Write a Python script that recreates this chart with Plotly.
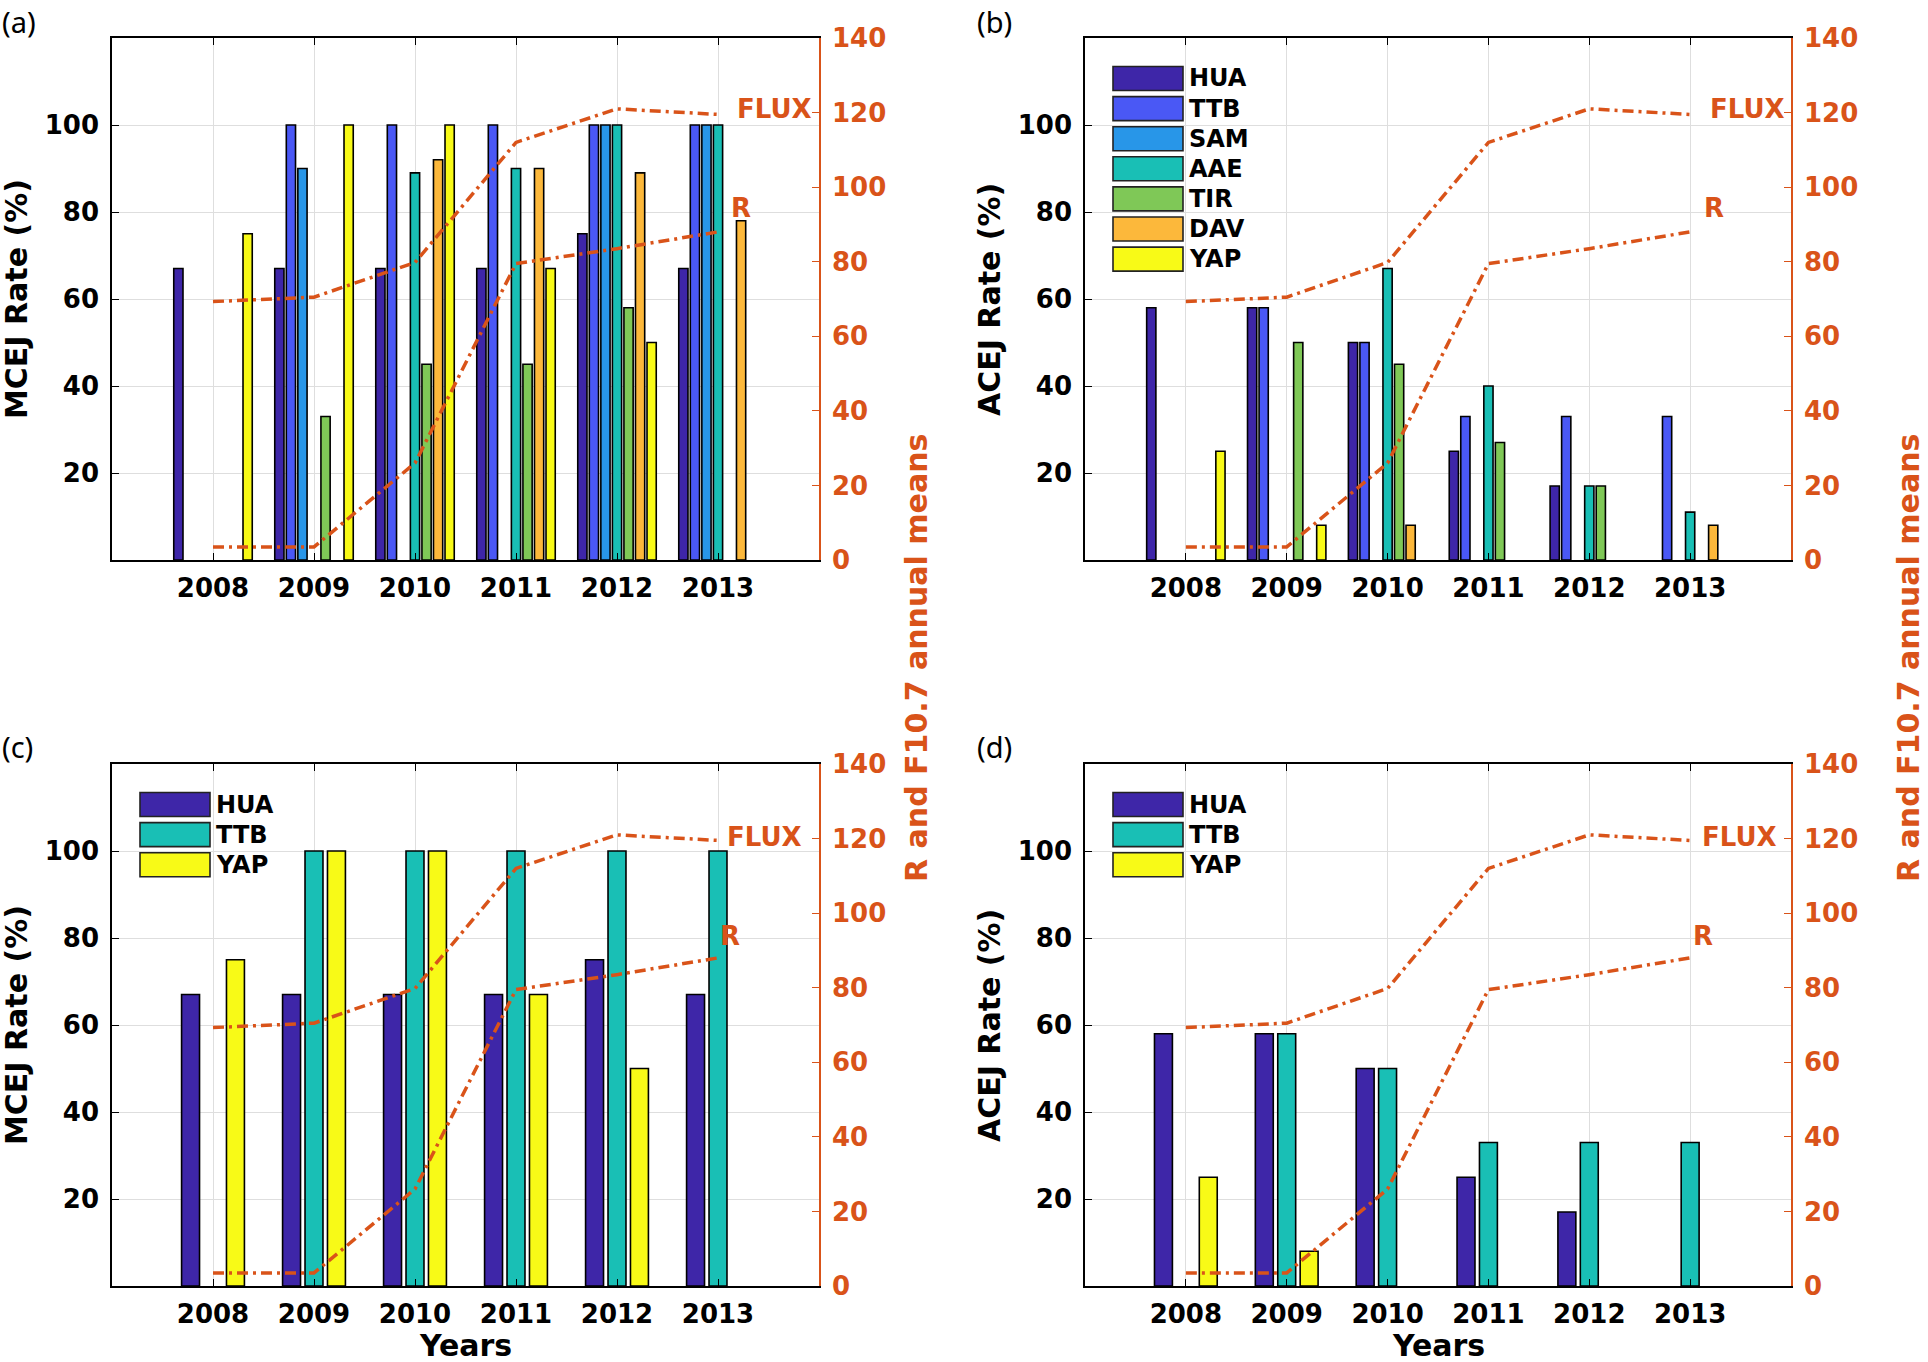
import plotly.graph_objects as go

# ---------------- data ----------------
years = [2008, 2009, 2010, 2011, 2012, 2013]
year_labels = ["2008", "2009", "2010", "2011", "2012", "2013"]

stations_all = ["HUA", "TTB", "SAM", "AAE", "TIR", "DAV", "YAP"]
stations_sub = ["HUA", "TTB", "YAP"]

# (a) MCEJ rate, all stations (%)
a_hua = [67, 67, 67, 67, 75, 67]
a_ttb = [None, 100, 100, 100, 100, 100]
a_sam = [None, 90, None, None, 100, 100]
a_aae = [None, None, 89, 90, 100, 100]
a_tir = [None, 33, 45, 45, 58, None]
a_dav = [None, None, 92, 90, 89, 78]
a_yap = [75, 100, 100, 67, 50, None]

# (b) ACEJ rate, all stations (%)
b_hua = [58, 58, 50, 25, 17, None]
b_ttb = [None, 58, 50, 33, 33, 33]
b_sam = [None, None, None, None, None, None]
b_aae = [None, None, 67, 40, 17, 11]
b_tir = [None, 50, 45, 27, 17, None]
b_dav = [None, None, 8, None, None, 8]
b_yap = [25, 8, None, None, None, None]

# (c) MCEJ rate, three stations (%)
c_hua = [67, 67, 67, 67, 75, 67]
c_ttb = [None, 100, 100, 100, 100, 100]
c_yap = [75, 100, 100, 67, 50, None]

# (d) ACEJ rate, three stations (%)
d_hua = [58, 58, 50, 25, 17, None]
d_ttb = [None, 58, 50, 33, 33, 33]
d_yap = [25, 8, None, None, None, None]

# solar activity annual means (right axis)
flux_f107 = [69.3, 70.5, 79.8, 112, 121, 119.5]
sunspot_r = [3.5, 3.5, 26, 79.5, 83.5, 88]

left_ticks = [20, 40, 60, 80, 100]
right_ticks = [0, 20, 40, 60, 80, 100, 120, 140]

# ---------------- style ----------------
W, H = 1928, 1362
ORANGE = "#d95319"
colors_all = ["#3e26a8", "#4a58f5", "#2896e8", "#19bfb5", "#7fc857", "#fcb83b", "#f8fa17"]
colors_sub = ["#3e26a8", "#19bfb5", "#f8fa17"]
FONT = "DejaVu Sans"
TICK_FS = 26
TITLE_FS = 30
GRID = "#dedede"


def px(xp):
    return xp / W


def py(yp):
    return 1 - yp / H


panels = [
    dict(lab="(a)", n=1, series=[a_hua, a_ttb, a_sam, a_aae, a_tir, a_dav, a_yap],
         names=stations_all, colors=colors_all, box=(112, 819, 38, 560),
         ytitle="MCEJ Rate (%)", legend=False, xtitle=False,
         flux_pos=(2013.56, 121), r_pos=(2013.23, 94.5), lab_pos=(0, 0)),
    dict(lab="(b)", n=2, series=[b_hua, b_ttb, b_sam, b_aae, b_tir, b_dav, b_yap],
         names=stations_all, colors=colors_all, box=(1085, 1791, 38, 560),
         ytitle="ACEJ Rate (%)", legend=True, xtitle=False,
         flux_pos=(2013.57, 121), r_pos=(2013.24, 94.5), lab_pos=(975, 0)),
    dict(lab="(c)", n=3, series=[c_hua, c_ttb, c_yap],
         names=stations_sub, colors=colors_sub, box=(112, 819, 764, 1286),
         ytitle="MCEJ Rate (%)", legend=True, xtitle=True,
         flux_pos=(2013.46, 120.3), r_pos=(2013.12, 93.8), lab_pos=(0, 725)),
    dict(lab="(d)", n=4, series=[d_hua, d_ttb, d_yap],
         names=stations_sub, colors=colors_sub, box=(1085, 1791, 764, 1286),
         ytitle="ACEJ Rate (%)", legend=True, xtitle=True,
         flux_pos=(2013.49, 120.3), r_pos=(2013.13, 93.8), lab_pos=(975, 725)),
]

fig = go.Figure()
layout = dict(
    template="none",
    width=W, height=H, margin=dict(l=0, r=0, t=0, b=0, pad=0, autoexpand=False),
    paper_bgcolor="white", plot_bgcolor="white",
    barmode="overlay", showlegend=False,
    font=dict(family=FONT, size=TICK_FS, color="black"),
)
annotations = []
shapes = []

for p in panels:
    k = p["n"]
    xa = "x" if k == 1 else f"x{k}"
    ya_i = 2 * k - 1
    ya = "y" if ya_i == 1 else f"y{ya_i}"
    ya2 = f"y{2 * k}"
    L, R, T, B = p["box"]
    xdom = [px(L), px(R)]
    ydom = [py(B), py(T)]

    nser = len(p["series"])
    groupwidth = min(0.8, nser / (nser + 1.5))
    spacing = groupwidth / nser
    bw = spacing * 0.8
    for i, (vals, name, col) in enumerate(zip(p["series"], p["names"], p["colors"])):
        offset = (i - (nser - 1) / 2) * spacing - bw / 2
        fig.add_trace(go.Bar(
            x=years, y=vals, name=name, xaxis=xa, yaxis=ya,
            width=bw, offset=offset,
            marker=dict(color=col, line=dict(color="black", width=1.6)),
            showlegend=False,
        ))
    for vals, name in [(flux_f107, "FLUX"), (sunspot_r, "R")]:
        fig.add_trace(go.Scatter(
            x=years, y=vals, name=name, xaxis=xa, yaxis=ya2, mode="lines",
            line=dict(color=ORANGE, width=3.5, dash="11px,5px,3px,5px"),
            showlegend=False,
        ))

    xkey = "xaxis" if k == 1 else f"xaxis{k}"
    ykey = "yaxis" if ya_i == 1 else f"yaxis{ya_i}"
    y2key = f"yaxis{2 * k}"
    layout[xkey] = dict(
        domain=xdom, anchor=ya, range=[2007, 2014], automargin=False,
        tickvals=years, ticktext=year_labels,
        ticks="inside", ticklen=7, tickcolor="black", tickwidth=1.2,
        showline=True, linecolor="black", linewidth=1.6, mirror="ticks",
        showgrid=True, gridcolor=GRID, gridwidth=1, zeroline=False,
        tickfont=dict(family=FONT, size=TICK_FS, color="black", weight="bold"),
        ticklabelstandoff=4,
    )
    layout[ykey] = dict(
        domain=ydom, anchor=xa, range=[0, 120], tickvals=left_ticks, automargin=False,
        ticks="inside", ticklen=7, tickcolor="black", tickwidth=1.2,
        showline=True, linecolor="black", linewidth=1.6,
        showgrid=True, gridcolor=GRID, gridwidth=1, zeroline=False,
        tickfont=dict(family=FONT, size=TICK_FS, color="black", weight="bold"),
        ticklabelstandoff=6,
    )
    layout[y2key] = dict(
        overlaying=ya, anchor=xa, side="right", range=[0, 140], tickvals=right_ticks,
        automargin=False,
        ticks="inside", ticklen=7, tickcolor=ORANGE, tickwidth=1.2,
        showline=True, linecolor=ORANGE, linewidth=1.6,
        showgrid=False, zeroline=False,
        tickfont=dict(family=FONT, size=TICK_FS, color=ORANGE, weight="bold"),
        ticklabelstandoff=6,
    )

    # FLUX / R labels
    annotations.append(dict(text="FLUX", x=p["flux_pos"][0], y=p["flux_pos"][1], xref=xa, yref=ya2,
                            showarrow=False, xanchor="center", yanchor="middle",
                            font=dict(family=FONT, size=TICK_FS, color=ORANGE, weight="bold")))
    annotations.append(dict(text="R", x=p["r_pos"][0], y=p["r_pos"][1], xref=xa, yref=ya2,
                            showarrow=False, xanchor="center", yanchor="middle",
                            font=dict(family=FONT, size=TICK_FS, color=ORANGE, weight="bold")))

    # left y title
    annotations.append(dict(text=p["ytitle"], x=px(L - 96), y=py((T + B) / 2), xref="paper", yref="paper",
                            showarrow=False, textangle=-90, xanchor="center", yanchor="middle",
                            font=dict(family=FONT, size=TITLE_FS, color="black", weight="bold")))
    # panel letter
    annotations.append(dict(text=p["lab"], x=px(p["lab_pos"][0]), y=py(p["lab_pos"][1]), xref="paper", yref="paper",
                            showarrow=False, xanchor="left", yanchor="top",
                            font=dict(family="Noto Sans", size=29, color="black")))
    if p["xtitle"]:
        annotations.append(dict(text="Years", x=px((L + R) / 2), y=py(1364), xref="paper", yref="paper",
                                showarrow=False, xanchor="center", yanchor="bottom", borderpad=0,
                                font=dict(family=FONT, size=TITLE_FS, color="black", weight="bold")))
    if p["legend"]:
        for j, (name, col) in enumerate(zip(p["names"], p["colors"])):
            cy = T + 40.5 + 30.1 * j
            shapes.append(dict(type="rect", xref="paper", yref="paper",
                               x0=px(L + 28), x1=px(L + 98), y0=py(cy + 12), y1=py(cy - 12),
                               fillcolor=col, line=dict(color="#222222", width=1.6)))
            annotations.append(dict(text=name, x=px(L + 102), y=py(cy), xref="paper", yref="paper",
                                    showarrow=False, xanchor="left", yanchor="middle",
                                    font=dict(family=FONT, size=24, color="black", weight="bold")))

# right-axis titles (one per column, between the rows)
for xc in (916, 1908):
    annotations.append(dict(text="R and F10.7 annual means", x=px(xc), y=py(658), xref="paper", yref="paper",
                            showarrow=False, textangle=-90, xanchor="center", yanchor="middle",
                            font=dict(family=FONT, size=TITLE_FS, color=ORANGE, weight="bold")))

layout["annotations"] = annotations
layout["shapes"] = shapes
fig.update_layout(**layout)

fig.write_html("out.html", config={"displayModeBar": False},
               post_script="document.body.style.margin='0';document.body.style.overflow='hidden';")
